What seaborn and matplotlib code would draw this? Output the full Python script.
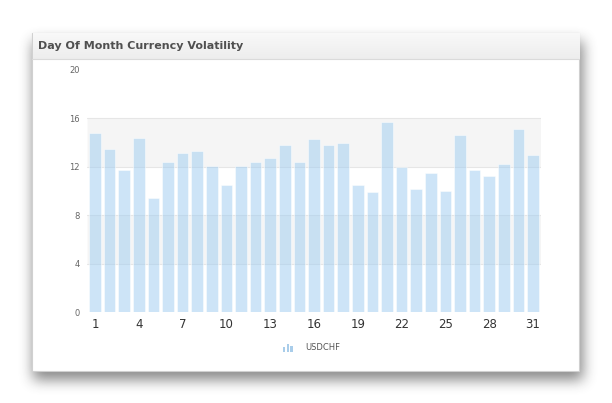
import numpy as np
import pandas as pd
import matplotlib
matplotlib.use('Agg')
import matplotlib.pyplot as plt
from matplotlib.patches import Rectangle
import seaborn as sns

# data
days = list(range(1, 32))
volatility = [14.8, 13.5, 11.7, 14.4, 9.4, 12.4, 13.1, 13.3, 12.1, 10.5,
              12.1, 12.4, 12.7, 13.8, 12.4, 14.3, 13.8, 14.0, 10.5, 9.9,
              15.7, 12.0, 10.2, 11.5, 10.0, 14.6, 11.7, 11.2, 12.2, 15.1, 13.0]
series_name = 'USDCHF'
title = 'Day Of Month Currency Volatility'
y_ticks = [0, 4, 8, 12, 16, 20]
x_tick_days = [1, 4, 7, 10, 13, 16, 19, 22, 25, 28, 31]

W, H = 612, 403
sns.set_style('white')
plt.rcParams['font.family'] = ['DejaVu Sans']

fig = plt.figure(figsize=(W / 100, H / 100), dpi=100)
fig.patch.set_facecolor('white')


def fx(px):
    return px / W


def fy(py):
    return 1 - py / H


# card shadow, blurred by hand
card = (32, 33, 579, 371)
mask = np.zeros((H, W))
mask[card[1] + 8:card[3] + 9, card[0] + 1:card[2] + 4] = 1.0
for _ in range(3):
    k = 13
    kern = np.ones(k) / k
    mask = np.apply_along_axis(lambda r: np.convolve(r, kern, mode='same'), 1, mask)
    mask = np.apply_along_axis(lambda c: np.convolve(c, kern, mode='same'), 0, mask)
shadow = np.zeros((H, W, 4))
shadow[..., :3] = 0.22
shadow[..., 3] = mask * 0.6
fig.figimage(shadow, xo=0, yo=0, origin='upper', zorder=0)

# card body and header
fig.patches.append(Rectangle((fx(card[0]), fy(card[3])), fx(card[2] - card[0]), (card[3] - card[1]) / H,
                             transform=fig.transFigure, facecolor='white', edgecolor='#d0d0d0',
                             linewidth=0.8, zorder=1))
grad = np.linspace(0.975, 0.93, 26)[:, None] * np.ones((26, card[2] - card[0]))
head = np.dstack([grad, grad, grad])
fig.figimage(head, xo=card[0] + 1, yo=H - 59, origin='upper', zorder=2)
fig.add_artist(plt.Line2D([fx(card[0]), fx(card[2])], [fy(59), fy(59)], color='#dadada',
                          linewidth=0.8, transform=fig.transFigure, zorder=3))
fig.text(fx(38), fy(46), title, fontsize=8, fontweight='bold', color='#505050',
         va='center', ha='left', zorder=4)

# plot area
ax = fig.add_axes([fx(87), fy(312), fx(541 - 87), (312 - 70) / H])
ax.set_zorder(5)
ax.set_facecolor('white')

df = pd.DataFrame({'day': [str(d) for d in days], 'value': volatility})
for lo, hi in [(4, 8), (12, 16)]:
    ax.axhspan(lo, hi, color='#f5f5f5', zorder=0, linewidth=0)
for yv in y_ticks[1:-1]:
    ax.axhline(yv, color='#e6e6e6', linewidth=0.8, zorder=0.5)

sns.barplot(data=df, x='day', y='value', order=[str(d) for d in days],
            color='#a0cdf0', saturation=1, width=0.79, alpha=0.52, ax=ax, zorder=2)
for p in ax.patches:
    p.set_edgecolor((1, 1, 1, 0.35))
    p.set_linewidth(0.6)

ax.set_xlim(-0.55, len(days) - 0.45)
ax.set_ylim(0, 20)
ax.set_yticks(y_ticks)
ax.set_yticklabels([str(t) for t in y_ticks], fontsize=6, color='#666666')
ax.set_xticks([days.index(d) for d in x_tick_days])
ax.set_xticklabels([str(d) for d in x_tick_days], fontsize=8.5, color='#333333')
ax.tick_params(axis='both', length=0)
ax.tick_params(axis='x', pad=4)
ax.tick_params(axis='y', pad=5)
ax.set_xlabel('')
ax.set_ylabel('')
for s in ax.spines.values():
    s.set_visible(False)

# legend
for i, h in enumerate([5, 8, 6]):
    fig.patches.append(Rectangle((fx(283 + i * 3.6), fy(352)), fx(2.4), h / H,
                                 transform=fig.transFigure, facecolor='#a9cdea',
                                 edgecolor='none', zorder=6))
fig.text(fx(305), fy(348), series_name, fontsize=6, color='#555555', va='center', ha='left')

fig.savefig('out.png', dpi=100)
